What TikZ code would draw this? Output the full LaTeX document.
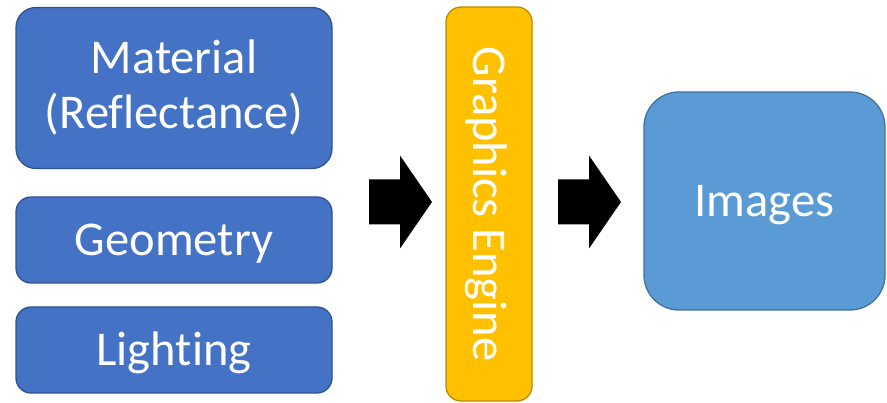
\documentclass[tikz,border=0pt]{standalone}
\usepackage{fontspec}
\setmainfont{Carlito}[Ligatures=NoCommon]
\definecolor{inblue}{HTML}{4472C4}
\definecolor{inblueedge}{HTML}{2F528F}
\definecolor{outblue}{HTML}{5B9BD5}
\definecolor{outblueedge}{HTML}{41719C}
\definecolor{engold}{HTML}{FFC000}
\definecolor{engoldedge}{HTML}{BC8C00}
\tikzset{
  labelfont/.style={font=\fontsize{48.5}{55}\selectfont},
  box/.style={draw, line width=1.3pt, inner sep=0pt, text=white, align=center, labelfont},
  inputbox/.style={box, fill=inblue, draw=inblueedge, minimum width=316pt},
  oneline/.style={text height=31pt, text depth=0pt},
  blockarrow/.style={fill=black},
}
\begin{document}
\begin{tikzpicture}[x=1pt, y=-1pt]
  \useasboundingbox (0,0) rectangle (887,403);
  % inputs
  \node[inputbox, minimum height=161pt, rounded corners=20pt] (mat) at (174,88)
    {Material\\(Reflectance)};
  \node[inputbox, minimum height=86pt, rounded corners=15pt, oneline] (geo) at (174,240) {Geometry};
  \node[inputbox, minimum height=86pt, rounded corners=15pt, oneline] (lig) at (174,350) {Lighting};
  % engine
  \node[box, fill=engold, draw=engoldedge, minimum width=86pt, minimum height=394pt,
    rounded corners=15pt] (eng) at (489,204) {};
  \node[text=white, labelfont, rotate=-90, inner sep=0pt, oneline] (engtext)
    at (eng.center) {Graphics Engine};
  % output
  \node[box, fill=outblue, draw=outblueedge, minimum width=241pt, minimum height=218pt,
    rounded corners=35pt, oneline] (img) at (764.5,201) {Images};
  % block arrows
  \coordinate (a1) at (369,202);
  \coordinate (a2) at (558,202);
  \foreach \c in {a1,a2}
    \fill[blockarrow] (\c) ++(0,-22.5) -- ++(31,0) -- ++(0,-24) -- ++(32,46.5)
      -- ++(-32,46.5) -- ++(0,-24) -- ++(-31,0) -- cycle;
\end{tikzpicture}
\end{document}
